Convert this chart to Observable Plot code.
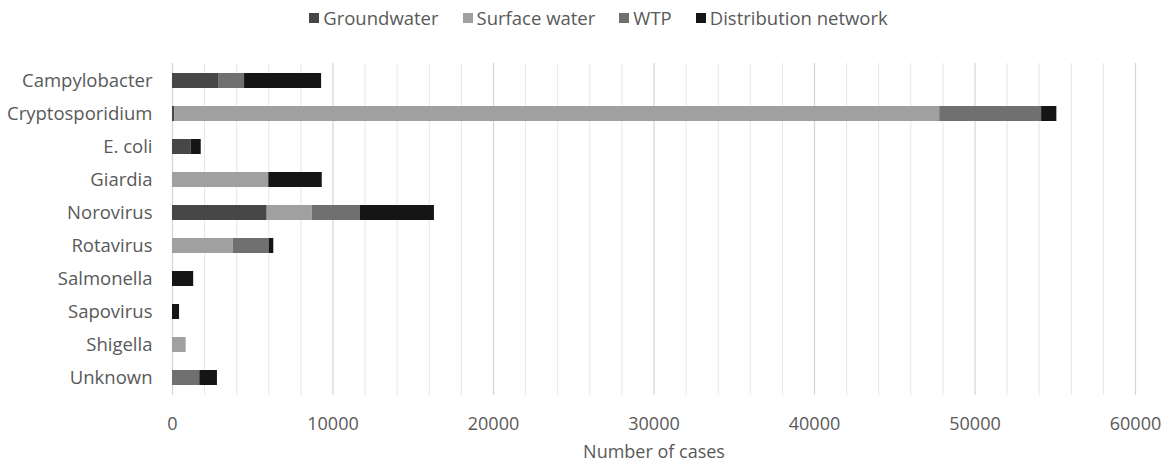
<!DOCTYPE html>
<html>
<head>
<meta charset="utf-8">
<script src="https://cdn.jsdelivr.net/npm/d3@7"></script>
<script src="https://cdn.jsdelivr.net/npm/@observablehq/plot@0.6"></script>
<style>
  body { margin: 0; background: #fff; font-family: "Open Sans", sans-serif; }
  #legend { height: 35px; display: flex; justify-content: center; align-items: center; gap: 24px; font-size: 18.5px; color: #595959; padding-left: 34px; box-sizing: border-box; }
  .sw { display: inline-flex; align-items: center; gap: 4px; }
  .sq { width: 10px; height: 10px; display: inline-block; }
</style>
</head>
<body>
<div id="legend"></div>
<div id="chart"></div>
<script>
const categories = ["Campylobacter","Cryptosporidium","E. coli","Giardia","Norovirus","Rotavirus","Salmonella","Sapovirus","Shigella","Unknown"];
const sources = ["Groundwater","Surface water","WTP","Distribution network"];
const colors = ["#474747","#a0a0a0","#707070","#151515"];
const groundwater  = [2870, 150, 1170,    0, 5900,    0,    0,   0,   0,    0];
const surfaceWater = [   0, 47650,   0, 6000, 2800, 3780,    0,   0, 850,    0];
const wtp          = [1620, 6350,    0,    0, 3010, 2240,    0,   0,   0, 1700];
const distribution = [4800,  950,  620, 3330, 4610,  290, 1320, 440,   0, 1100];
const xTicks = [0, 10000, 20000, 30000, 40000, 50000, 60000];
const minorTicks = d3.range(0, 60001, 2000);

const series = [groundwater, surfaceWater, wtp, distribution];
const data = [];
sources.forEach((s, i) => categories.forEach((c, j) => data.push({category: c, source: s, value: series[i][j]})));

const leg = document.getElementById("legend");
sources.forEach((s, i) => {
  const el = document.createElement("span");
  el.className = "sw";
  el.innerHTML = `<span class="sq" style="background:${colors[i]}"></span><span>${s}</span>`;
  leg.appendChild(el);
});

const chart = Plot.plot({
  width: 1163,
  height: 432,
  marginTop: 28,
  marginBottom: 72,
  marginLeft: 172,
  marginRight: 28,
  style: {fontFamily: "'Open Sans', sans-serif", fontSize: "18px", color: "#595959"},
  x: {domain: [0, 60000], label: null},
  y: {domain: categories, paddingInner: 0.55, paddingOuter: 0.275, label: null},
  color: {domain: sources, range: colors},
  marks: [
    Plot.ruleX(minorTicks.filter(d => d % 10000 !== 0), {stroke: "#e6e6e6", strokeWidth: 1}),
    Plot.ruleX(xTicks, {stroke: "#d4d4d4", strokeWidth: 1.2}),
    Plot.barX(data, Plot.stackX({y: "category", x: "value", fill: "source", order: sources})),
    Plot.axisX({ticks: xTicks, tickFormat: d => String(d), tickSize: 0, tickPadding: 22, label: null, fontSize: 18}),
    Plot.axisY({tickSize: 0, tickPadding: 20, label: null, fontSize: 18.5}),
    Plot.text(["Number of cases"], {frameAnchor: "bottom", dy: 62, fontSize: 18, fill: "#595959"})
  ]
});
document.getElementById("chart").appendChild(chart);
</script>
</body>
</html>
